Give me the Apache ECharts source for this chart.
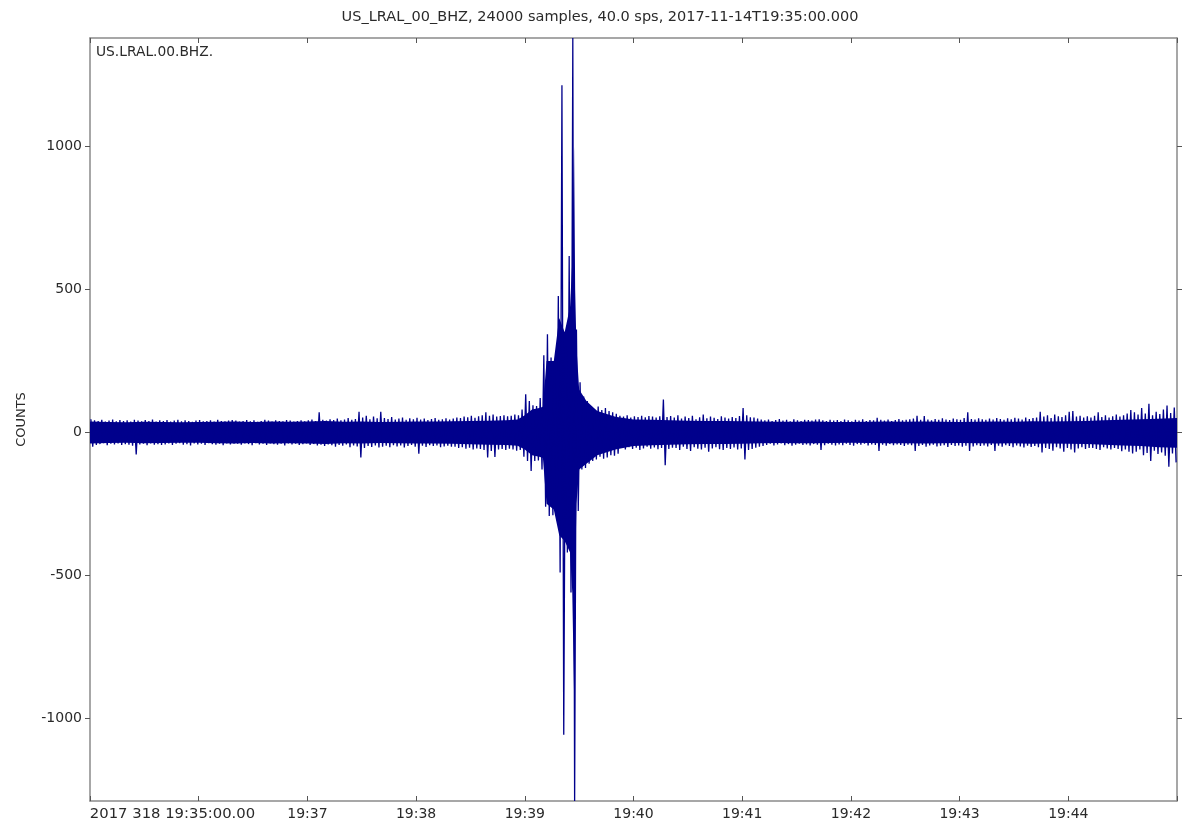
<!DOCTYPE html>
<html>
<head>
<meta charset="utf-8">
<script src="https://cdn.jsdelivr.net/npm/echarts@6/dist/echarts.min.js"></script>
<style>
html,body{margin:0;padding:0;background:#ffffff;}
#chart{width:1200px;height:840px;}
</style>
</head>
<body>
<div id="chart"></div>
<script>
// ---- text ----
const titleText = 'US_LRAL_00_BHZ, 24000 samples, 40.0 sps, 2017-11-14T19:35:00.000';
const channelLabel = 'US.LRAL.00.BHZ.';
const yAxisName = 'COUNTS';

// ---- axis ticks ----
const yTicks = [-1000, -500, 0, 500, 1000];
const yMin = -1290;
const yMax = 1380;
const xTickSeconds = [0, 60, 120, 180, 240, 300, 360, 420, 480, 540, 600];
const xTickLabels = ['2017 318 19:35:00.00', '', '19:37', '19:38', '19:39', '19:40', '19:41', '19:42', '19:43', '19:44', ''];

// ---- trace envelope: max / min counts per 2-second bin (300 bins, 19:35:00 - 19:45:00) ----
const binSeconds = 2;
const envelopeMax = [
  46,42,40,44,38,41,45,39,43,40,42,38,44,41,39,43,40,45,38,42,
  40,43,38,41,44,39,42,40,37,41,43,39,40,42,38,44,40,39,41,43,
  41,38,40,43,39,42,37,40,44,41,38,42,40,39,43,41,38,40,42,39,
  42,45,40,70,44,41,46,43,48,42,45,50,44,47,72,52,58,46,55,49,
  72,50,47,54,45,48,52,44,49,46,51,45,48,43,47,50,44,46,49,45,
  48,52,50,55,53,58,51,56,60,70,58,62,55,57,60,56,58,62,
  60,80,133,110,95,92,120,270,343,262,250,477,1215,300,617,1380,360,175,125,110,87,80,90,78,85,75,70,65,
  58,55,60,52,56,54,58,53,57,55,52,56,115,54,57,
  52,60,48,55,50,58,46,53,62,49,55,51,47,56,52,48,54,50,57,85,60,53,52,48,45,
  42,45,40,43,47,41,44,39,46,42,40,44,43,41,45,46,42,40,44,41,
  43,40,45,42,39,44,41,46,40,43,42,51,44,41,45,40,43,47,42,44,
  46,48,58,44,57,45,42,47,44,49,45,43,48,46,44,50,70,47,45,49,
  46,44,48,45,50,47,44,49,46,51,48,45,52,47,50,
  52,72,55,60,50,62,56,54,60,72,75,55,58,52,56,
  52,58,70,54,60,52,56,62,55,60,66,78,
  70,62,85,66,100,60,72,64,80,94,68,87
];
const envelopeMin = [
  -50,-44,-41,-38,-45,-40,-42,-39,-44,-41,-43,-47,-77,-42,-40,-45,-39,-43,-41,-44,
  -42,-39,-44,-40,-38,-43,-41,-46,-39,-42,-40,-44,-38,-41,-43,-40,-45,-39,-42,-40,
  -40,-43,-39,-41,-45,-38,-42,-40,-44,-39,-41,-43,-40,-46,-39,-42,-40,-44,-41,-39,
  -44,-41,-46,-43,-48,-42,-45,-50,-44,-47,-42,-52,-46,-49,-88,-55,-48,-51,-46,-53,
  -50,-47,-52,-45,-49,-46,-53,-48,-44,-50,-75,-47,-51,-45,-48,-46,-52,-49,-47,-50,
  -50,-55,-52,-57,-54,-60,-56,-58,-62,-88,-65,-86,-60,-58,-62,-57,-60,-64,
  -62,-85,-100,-135,-100,-98,-130,-260,-293,-290,-280,-490,-1058,-420,-560,-1290,-275,-130,-125,-110,-100,-95,-85,-92,-88,-80,-82,-75,
  -55,-60,-52,-58,-54,-62,-56,-50,-57,-53,-59,-55,-115,-58,-54,
  -55,-62,-50,-58,-65,-52,-57,-60,-54,-68,-56,-52,-59,-62,-55,-58,-53,-60,-56,-95,-62,-58,-54,-50,-48,
  -44,-40,-46,-42,-39,-45,-41,-47,-43,-40,-44,-42,-46,-41,-43,-62,-45,-40,-43,-46,
  -42,-45,-40,-44,-47,-41,-43,-40,-46,-42,-44,-65,-43,-47,-41,-45,-42,-44,-48,-43,
  -45,-65,-48,-44,-50,-46,-43,-49,-47,-45,-51,-44,-48,-46,-50,-47,-65,-49,-45,-48,
  -46,-49,-44,-65,-47,-50,-45,-48,-52,-46,-49,-53,-47,-51,-48,
  -52,-70,-55,-58,-64,-52,-56,-68,-55,-60,-70,-56,-52,-58,-55,
  -55,-58,-62,-52,-56,-60,-55,-58,-66,-60,-68,-74,
  -68,-60,-80,-72,-100,-64,-76,-70,-82,-120,-74,-105
];

// ---- solid dark core of the trace (seconds after 19:35:00, upper / lower counts) ----
const coreTimes = [
  0,10,20,30,40,50,60,70,80,90,100,110,120,130,140,150,160,170,180,190,200,210,220,230,
  236,240,244,248,250,252,256,259,262,265,266.2,267.2,267.8,268.5,270,274,280,290,300,
  310,320,330,340,350,360,370,380,390,400,410,420,430,440,450,460,470,480,490,500,510,520,530,540,550,560,570,580,590,600
];
const coreUpper = [
  38,36,35,37,36,35,36,37,38,36,38,37,38,40,37,38,36,37,38,38,39,40,41,42,
  45,60,80,85,90,250,250,400,350,440,600,1000,500,300,150,110,75,55,45,
  44,42,41,40,40,39,38,37,37,38,36,36,37,38,37,38,37,36,37,38,37,39,38,39,40,42,44,46,48,50
];
const coreLower = [
  -39,-37,-36,-38,-37,-36,-36,-38,-39,-37,-39,-38,-39,-41,-38,-39,-37,-38,-39,-39,-40,-42,-43,-44,
  -47,-60,-80,-85,-90,-250,-270,-360,-380,-420,-560,-915,-500,-250,-130,-110,-80,-60,-48,
  -45,-43,-42,-41,-41,-40,-38,-37,-38,-38,-37,-36,-37,-38,-38,-39,-38,-37,-38,-39,-38,-40,-39,-40,-41,-43,-46,-48,-52,-54
];

// trace: each 2-s bin contributes its max then its min
const tracePoints = [];
for (let i = 0; i < envelopeMax.length; i++) {
  tracePoints.push([i * binSeconds + 0.5, envelopeMax[i]]);
  tracePoints.push([i * binSeconds + 1.5, envelopeMin[i]]);
}

const FONT = 'DejaVu Sans';
const LABEL_SIZE = 14;
const TEXT_COLOR = '#2a2a2a';
const FRAME_COLOR = '#8a8a8a';
const TRACE_COLOR = '#00008c';

// width of first x label so it can start at the axis origin
const cv = document.createElement('canvas').getContext('2d');
cv.font = '14.8px "' + FONT + '"';
const firstLabelWidth = Math.round(cv.measureText(xTickLabels[0]).width);

function xLabel(v) {
  const idx = xTickSeconds.indexOf(v);
  if (idx < 0) return '';
  const t = xTickLabels[idx];
  if (idx === 0) return '{first|' + t + '}';
  return t;
}

// core band polygon drawn through the chart's own axes
function renderCore(params, api) {
  const pts = [];
  for (let k = 0; k < coreTimes.length; k++) pts.push(api.coord([coreTimes[k], coreUpper[k]]));
  for (let k = coreTimes.length - 1; k >= 0; k--) pts.push(api.coord([coreTimes[k], coreLower[k]]));
  return { type: 'polygon', shape: { points: pts }, style: { fill: TRACE_COLOR }, silent: true };
}

const chart = echarts.init(document.getElementById('chart'), null, { renderer: 'canvas' });
const frameLine = { show: true, onZero: false, lineStyle: { color: FRAME_COLOR, width: 1.5 } };

chart.setOption({
  animation: false,
  backgroundColor: '#ffffff',
  title: [
    { text: titleText, left: 'center', top: 5,
      textStyle: { fontSize: 14.5, fontWeight: 'normal', color: TEXT_COLOR, fontFamily: FONT } },
    { text: channelLabel, left: 91, top: 40,
      textStyle: { fontSize: 13.8, fontWeight: 'normal', color: TEXT_COLOR, fontFamily: FONT } }
  ],
  grid: { left: 90, right: 23, top: 38, bottom: 39, containLabel: false },
  xAxis: [
    { type: 'value', min: 0, max: 600, interval: 60, position: 'bottom',
      axisLine: frameLine,
      axisTick: { show: true, inside: true, length: 5, lineStyle: { color: '#555555' } },
      axisLabel: { show: true, color: TEXT_COLOR, fontSize: LABEL_SIZE, fontFamily: FONT, margin: 6,
        formatter: xLabel,
        rich: { first: { fontSize: 14.8, fontFamily: FONT, color: TEXT_COLOR, padding: [0, 0, 0, firstLabelWidth] } } },
      splitLine: { show: false } },
    { type: 'value', min: 0, max: 600, interval: 60, position: 'top',
      axisLine: frameLine,
      axisTick: { show: true, inside: true, length: 5, lineStyle: { color: '#555555' } },
      axisLabel: { show: false }, splitLine: { show: false } }
  ],
  yAxis: [
    { type: 'value', min: yMin, max: yMax, position: 'left',
      name: yAxisName, nameLocation: 'middle', nameGap: 62, nameRotate: 90,
      nameTextStyle: { color: TEXT_COLOR, fontSize: 13, fontFamily: FONT },
      axisLine: frameLine,
      axisTick: { show: true, inside: false, length: 5, customValues: yTicks, lineStyle: { color: '#555555' } },
      axisLabel: { show: true, customValues: yTicks, color: TEXT_COLOR, fontSize: LABEL_SIZE, fontFamily: FONT, margin: 8,
        formatter: v => (yTicks.indexOf(v) >= 0 ? String(v) : '') },
      splitLine: { show: false } },
    { type: 'value', min: yMin, max: yMax, position: 'right',
      axisLine: frameLine,
      axisTick: { show: true, inside: false, length: 5, customValues: yTicks, lineStyle: { color: '#555555' } },
      axisLabel: { show: false }, splitLine: { show: false } }
  ],
  series: [
    { name: 'core', type: 'custom', xAxisIndex: 0, yAxisIndex: 0, data: [[0, 0]],
      renderItem: renderCore, clip: true, silent: true, z: 1 },
    { name: 'trace', type: 'line', xAxisIndex: 0, yAxisIndex: 0, data: tracePoints,
      showSymbol: false, symbol: 'none', clip: true, silent: true,
      lineStyle: { color: TRACE_COLOR, width: 1.3 }, z: 2 }
  ]
});
</script>
</body>
</html>
